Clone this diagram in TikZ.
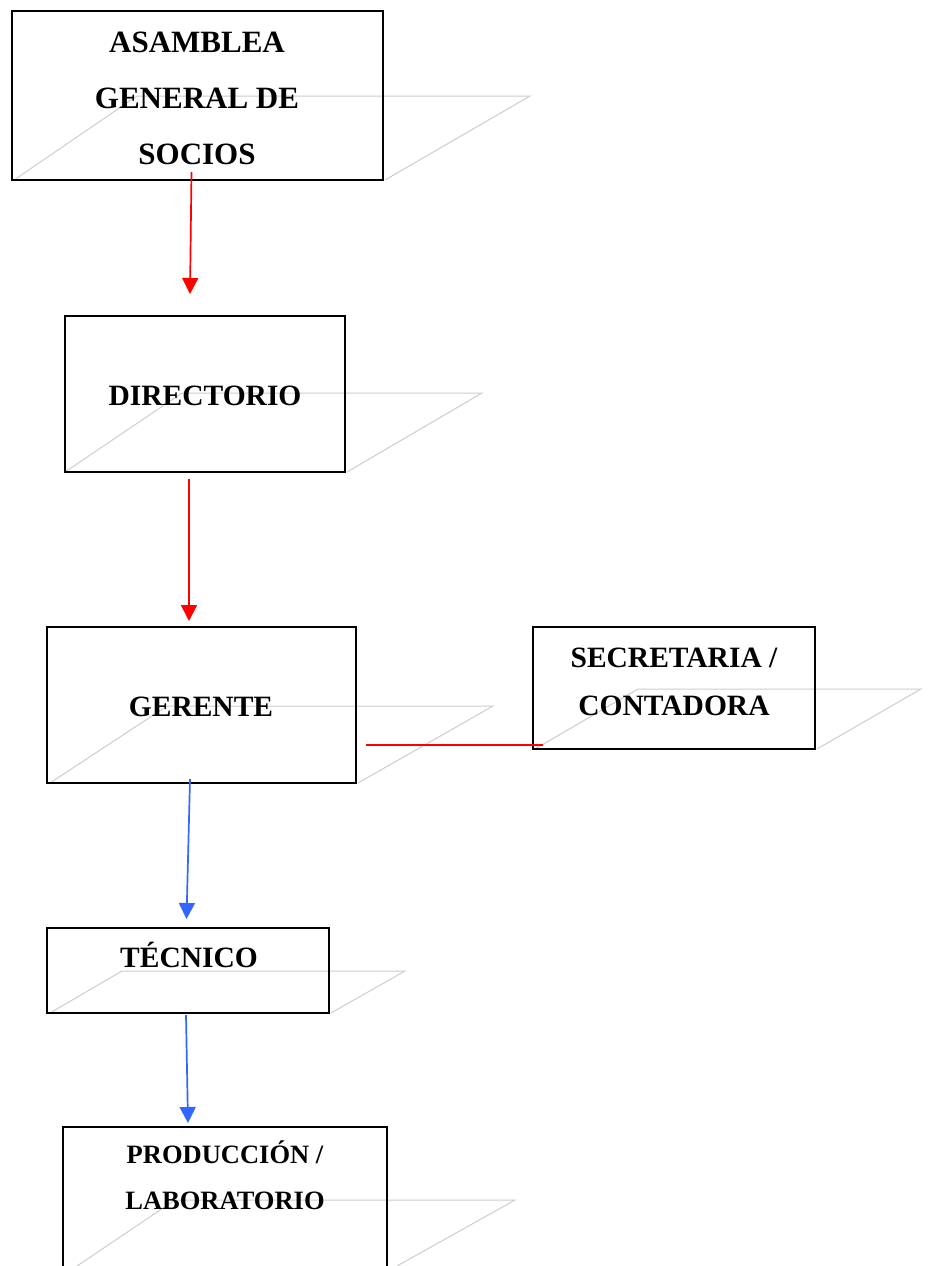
\documentclass[tikz,border=0pt]{standalone}
\usepackage{fontspec}
\setmainfont{Liberation Serif}
\usetikzlibrary{arrows.meta}
\definecolor{shadowgray}{RGB}{205,205,205}
\definecolor{linkred}{RGB}{255,0,0}
\definecolor{linkblue}{RGB}{51,102,255}
\tikzset{
  orgbox/.style={draw=black, line width=1.8pt, fill=none, inner sep=0pt},
  ghost/.style={draw=shadowgray, line width=1pt},
  lbl/.style={font=\fontsize{29.5}{56}\selectfont\bfseries, align=center, anchor=base, inner sep=0pt},
  lblbig/.style={font=\fontsize{31}{56}\selectfont\bfseries, align=center, anchor=base, inner sep=0pt},
  lblmid/.style={font=\fontsize{29.5}{48}\selectfont\bfseries, align=center, anchor=base, inner sep=0pt},
  lblsmall/.style={font=\fontsize{26.5}{46}\selectfont\bfseries, align=center, anchor=base, inner sep=0pt},
  redarrow/.style={draw=linkred, line width=1.7pt, -{Triangle[length=16pt,width=16pt]}},
  bluearrow/.style={draw=linkblue, line width=1.7pt, -{Triangle[length=16pt,width=16pt]}},
}
\begin{document}
\begin{tikzpicture}[x=1pt,y=-1pt]
\useasboundingbox (0,0) rectangle (929,1266);
% ghost parallelograms
\draw[ghost] (14,180) -- (137,96) -- (530,96) -- (385,180);
\draw[ghost] (65,472) -- (182,393) -- (482,393) -- (347,472);
\draw[ghost] (50,783) -- (167,706) -- (493,706) -- (358,783);
\draw[ghost] (535,749) -- (638,689) -- (921,689) -- (817,749);
\draw[ghost] (50,1013) -- (122,971) -- (405,971) -- (331,1013);
\draw[ghost] (77,1266) -- (175,1200) -- (515,1200) -- (397,1266);
% boxes
\node[orgbox, minimum width=371pt, minimum height=169pt] (asamblea) at (197.5,95.5) {};
\node[orgbox, minimum width=280pt, minimum height=156pt] (directorio) at (205,394) {};
\node[orgbox, minimum width=309pt, minimum height=156pt] (gerente) at (201.5,705) {};
\node[orgbox, minimum width=282pt, minimum height=122pt] (secretaria) at (674,688) {};
\node[orgbox, minimum width=282pt, minimum height=85pt] (tecnico) at (188,970.5) {};
\node[orgbox, minimum width=324pt, minimum height=200pt] (produccion) at (225,1227) {};
% labels (anchored at the baseline of the last line)
\node[lblbig] (tasamblea) at (197,164) {ASAMBLEA\\GENERAL DE\\SOCIOS};
\node[lbl] (tdirectorio) at (205,405) {DIRECTORIO};
\node[lbl] (tgerente) at (201,716) {GERENTE};
\node[lblmid] (tsecretaria) at (674,715) {SECRETARIA /\\CONTADORA};
\node[lbl] (ttecnico) at (189,967) {TÉCNICO};
\node[lblsmall] (tproduccion) at (225,1209) {PRODUCCIÓN /\\LABORATORIO};
% connector anchors
\coordinate (a1s) at (191.5,172);
\coordinate (a1e) at (190,294);
\coordinate (a2s) at (189,479);
\coordinate (a2e) at (189,621);
\coordinate (a3s) at (190,779);
\coordinate (a3e) at (186.5,919);
\coordinate (a4s) at (186,1015);
\coordinate (a4e) at (188,1123);
\coordinate (ls) at (366,745);
\coordinate (le) at (543,745);
\draw[redarrow] (a1s) -- (a1e);
\draw[redarrow] (a2s) -- (a2e);
\draw[bluearrow] (a3s) -- (a3e);
\draw[bluearrow] (a4s) -- (a4e);
\draw[draw=linkred, line width=1.7pt] (ls) -- (le);
\end{tikzpicture}
\end{document}
